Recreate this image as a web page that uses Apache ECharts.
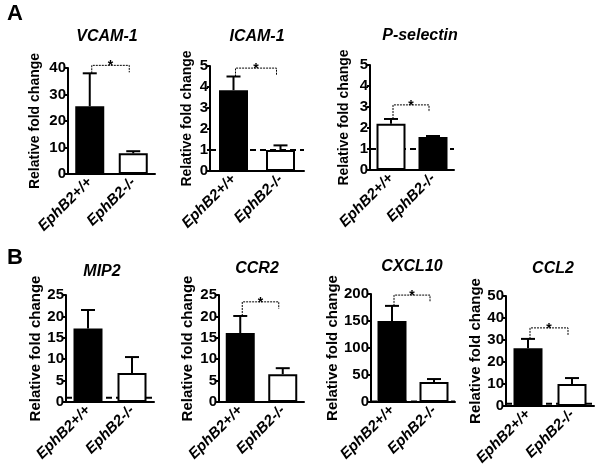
<!DOCTYPE html>
<html><head><meta charset="utf-8">
<script src="https://cdn.jsdelivr.net/npm/echarts@6/dist/echarts.min.js"></script>
<style>html,body{margin:0;padding:0;background:#fff}#c{width:600px;height:476px}</style>
</head><body><div id="c"></div>
<script>
// ---- data ----
const categories = ['EphB2+/+', 'EphB2-/-'];
const genes = ['VCAM-1', 'ICAM-1', 'P-selectin', 'MIP2', 'CCR2', 'CXCL10', 'CCL2'];
const meanWT = [25.6, 3.85, 2.2, 17.2, 16.1, 150, 26.2];
const meanKO = [7.8, 1.0, 1.57, 6.8, 6.5, 37, 10.0];
const upperWT = [38.0, 4.5, 2.43, 21.5, 20.1, 178, 30.5];
const upperKO = [8.6, 1.22, 1.62, 10.5, 7.9, 42.5, 12.7];
const yMax = [40, 5, 5, 25, 25, 200, 50];
const yStep = [10, 1, 1, 5, 5, 50, 10];
const bracketY = [41, 4.9, 3.1, null, 23.4, 198, 35.5];
const baseline = 1;
const showBaseline = [false, true, true, true, false, true, true];
const wtFilled = [true, true, false, true, true, true, true];
const yName = 'Relative fold change';
const panelLetters = ['A', 'B'];

// ---- layout / style ----
const FONT = '"Liberation Sans", Arial, sans-serif';
const gridPos = [
  {left: 68, top: 68, width: 87, height: 106},
  {left: 210, top: 66, width: 94, height: 105},
  {left: 370, top: 65, width: 84, height: 105},
  {left: 66, top: 295, width: 88, height: 107},
  {left: 219, top: 295, width: 85, height: 107},
  {left: 371, top: 294, width: 84, height: 108},
  {left: 506, top: 296, width: 88, height: 110}
];
const nameGaps = [26, 16, 19, 23, 24, 26, 21];
const nameSizes = [14, 14, 14, 15, 15, 15, 15];
const titlePos = [[107, 38], [257, 38], [420, 37], [102, 273], [257, 270], [412, 268], [553, 270]];
const letterPos = [[15, 15], [15, 259]];

const black = {color: '#000', borderColor: '#000', borderWidth: 0};
const white = {color: '#fff', borderColor: '#000', borderWidth: 2};

const grid = [], xAxis = [], yAxis = [], series = [], title = [];

genes.forEach((g, i) => {
  grid.push(Object.assign({containLabel: false}, gridPos[i]));
  xAxis.push({
    type: 'category', gridIndex: i, data: categories,
    axisLine: {lineStyle: {color: '#000', width: 2}},
    axisTick: {alignWithLabel: true, length: 3, lineStyle: {color: '#000', width: 2}},
    axisLabel: {interval: 0, rotate: 45, margin: 6, color: '#000', fontFamily: FONT,
      fontSize: 15, fontWeight: 'bold', fontStyle: 'italic'}
  });
  yAxis.push({
    type: 'value', gridIndex: i, min: 0, max: yMax[i], interval: yStep[i],
    name: yName, nameLocation: 'middle', nameGap: nameGaps[i],
    nameTextStyle: {color: '#000', fontFamily: FONT, fontSize: nameSizes[i], fontWeight: 'bold'},
    axisLine: {show: true, lineStyle: {color: '#000', width: 2}},
    axisTick: {show: true, length: 3, lineStyle: {color: '#000', width: 2}},
    axisLabel: {margin: 2, color: '#000', fontFamily: FONT, fontSize: 15, fontWeight: 'bold'},
    splitLine: {show: false}
  });
  title.push({
    text: g, left: titlePos[i][0], top: titlePos[i][1] - 9, textAlign: 'center', padding: 0,
    textStyle: {color: '#000', fontFamily: FONT, fontSize: 16, fontWeight: 'bold', fontStyle: 'italic'}
  });

  if (showBaseline[i]) {
    series.push({
      type: 'custom', xAxisIndex: i, yAxisIndex: i, z: 1, silent: true, clip: false,
      data: [[0, baseline]],
      renderItem: (params, api) => {
        const cs = params.coordSys;
        const y = api.coord([0, api.value(1)])[1];
        return {type: 'line', shape: {x1: cs.x, y1: y, x2: cs.x + cs.width, y2: y},
          style: {stroke: '#000', lineWidth: 2, lineDash: [6, 4]}};
      }
    });
  }

  series.push({
    type: 'bar', xAxisIndex: i, yAxisIndex: i, z: 2, barWidth: 29, silent: true,
    data: [
      {value: meanWT[i], itemStyle: wtFilled[i] ? black : white},
      {value: meanKO[i], itemStyle: wtFilled[i] ? white : black}
    ]
  });

  series.push({
    type: 'custom', xAxisIndex: i, yAxisIndex: i, z: 3, silent: true, clip: false,
    data: [[0, meanWT[i], upperWT[i]], [1, meanKO[i], upperKO[i]]],
    renderItem: (params, api) => {
      const x = api.value(0);
      const p0 = api.coord([x, api.value(1)]);
      const p1 = api.coord([x, api.value(2)]);
      return {type: 'group', children: [
        {type: 'line', shape: {x1: p0[0], y1: p0[1], x2: p1[0], y2: p1[1]}, style: {stroke: '#000', lineWidth: 2}},
        {type: 'line', shape: {x1: p1[0] - 7, y1: p1[1], x2: p1[0] + 7, y2: p1[1]}, style: {stroke: '#000', lineWidth: 2}}
      ]};
    }
  });

  if (bracketY[i] !== null) {
    series.push({
      type: 'custom', xAxisIndex: i, yAxisIndex: i, z: 4, silent: true, clip: false,
      data: [[0, bracketY[i], upperWT[i]]],
      renderItem: (params, api) => {
        const a = api.coord([0, api.value(1)]);
        const b = api.coord([1, api.value(1)]);
        const e = api.coord([0, api.value(2)]);
        const x0 = a[0] + 2, x1 = b[0] - 4, y = a[1];
        let leftEnd = e[1];
        if (leftEnd - y > 15) leftEnd = y + 7;
        return {type: 'group', children: [
          {type: 'polyline', shape: {points: [[x0, leftEnd], [x0, y], [x1, y], [x1, y + 7]]},
            style: {stroke: '#000', lineWidth: 1, lineDash: [2, 1], fill: null}},
          {type: 'text', x: (x0 + x1) / 2, y: y + 1,
            style: {text: '*', fill: '#000', font: 'bold 14px ' + FONT, textAlign: 'center', textVerticalAlign: 'middle',
              align: 'center', verticalAlign: 'middle'}}
        ]};
      }
    });
  }
});

panelLetters.forEach((L, k) => {
  title.push({
    text: L, left: letterPos[k][0], top: letterPos[k][1] - 12, textAlign: 'center', padding: 0,
    textStyle: {color: '#000', fontFamily: FONT, fontSize: 22, fontWeight: 'bold'}
  });
});

const chart = echarts.init(document.getElementById('c'), null, {renderer: 'canvas'});
chart.setOption({animation: false, backgroundColor: '#fff', title, grid, xAxis, yAxis, series});
</script>
</body></html>
